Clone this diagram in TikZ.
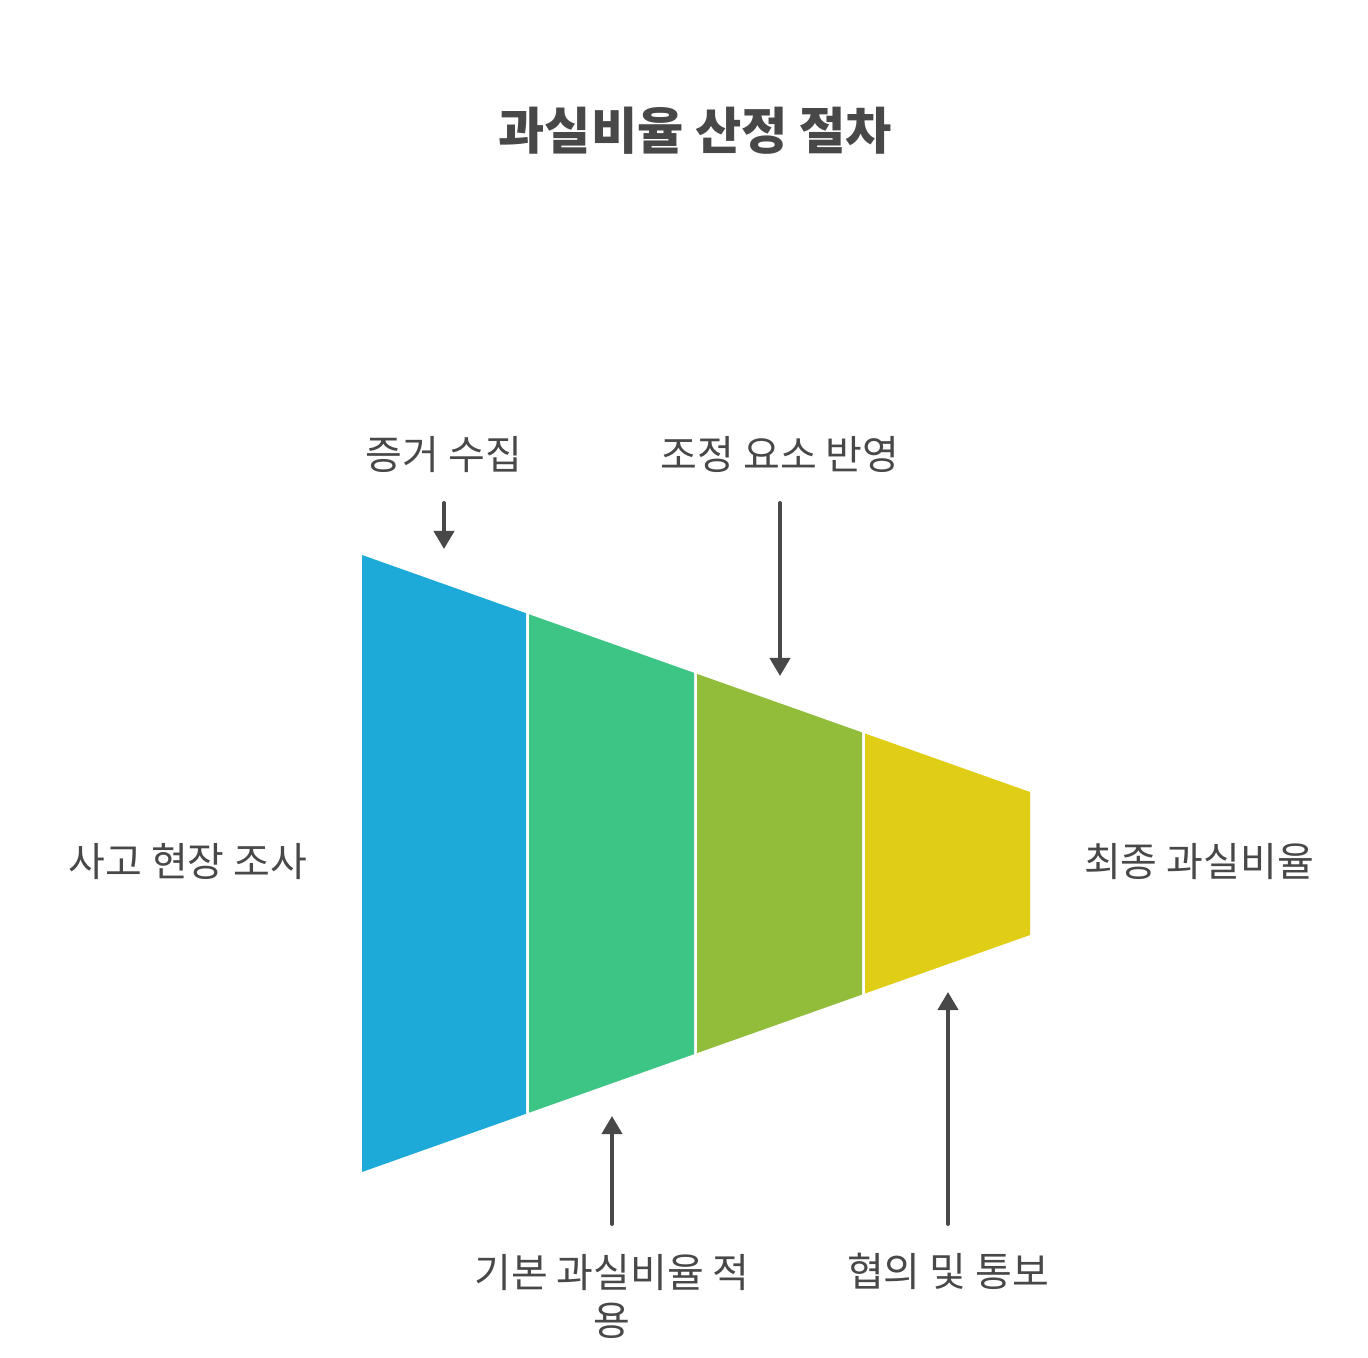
\documentclass[tikz,border=0pt]{standalone}
\usepackage{fontspec}
\setmainfont{Noto Sans CJK KR}
\usetikzlibrary{arrows.meta}
\definecolor{txt}{HTML}{484848}
\definecolor{cblue}{HTML}{1EAAD9}
\definecolor{cgreen}{HTML}{3CC584}
\definecolor{colive}{HTML}{92BD3A}
\definecolor{cyellow}{HTML}{E0CD16}
\tikzset{
  lbl/.style={text=txt, font=\fontsize{30}{36}\selectfont, align=center, inner sep=0pt},
  ttl/.style={text=txt, font=\fontsize{37.7}{44}\selectfont\bfseries, inner sep=0pt},
  arr/.style={draw=txt, line width=3pt, line cap=round, -{Triangle[width=15pt,length=13.5pt]}},
}
\begin{document}
\begin{tikzpicture}[x=0.75pt,y=-0.75pt]
\useasboundingbox (0,0) rectangle (1368,1358);
\fill[white] (0,0) rectangle (1368,1358);
% funnel segments
\fill[cblue]   (362,555) -- (526,613.2) -- (526,1113.8) -- (362,1172) -- cycle;
\fill[cgreen]  (529,614.3) -- (694,672.8) -- (694,1054.2) -- (529,1112.7) -- cycle;
\fill[colive]  (697,673.9) -- (862,732.4) -- (862,994.6) -- (697,1053.1) -- cycle;
\fill[cyellow] (865,733.5) -- (1030,792) -- (1030,935) -- (865,993.5) -- cycle;
% title
\node[ttl] (title) at (695,131) {과실비율 산정 절차};
% labels
\node[lbl] (l1) at (188,862) {사고 현장 조사};
\node[lbl] (l2) at (444,455) {증거 수집};
\node[lbl] (l3) at (780,455) {조정 요소 반영};
\node[lbl] (l4) at (612,1296) {기본 과실비율 적\\용};
\node[lbl] (l5) at (948,1271) {협의 및 통보};
\node[lbl] (l6) at (1199,862) {최종 과실비율};
% arrow coordinates
\coordinate (a2s) at (444,503);
\coordinate (a2e) at (444,549);
\coordinate (a3s) at (780,503);
\coordinate (a3e) at (780,676);
\coordinate (a4s) at (612,1224);
\coordinate (a4e) at (612,1116);
\coordinate (a5s) at (948,1224);
\coordinate (a5e) at (948,992);
\draw[arr] (a2s) -- (a2e);
\draw[arr] (a3s) -- (a3e);
\draw[arr] (a4s) -- (a4e);
\draw[arr] (a5s) -- (a5e);
\end{tikzpicture}
\end{document}
